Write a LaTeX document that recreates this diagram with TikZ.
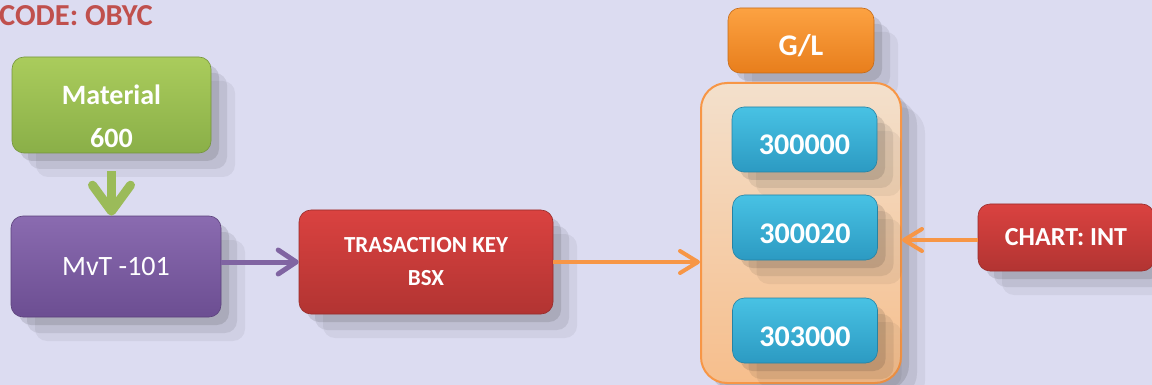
\documentclass[tikz,border=0pt]{standalone}
\usepackage{fontspec}
\setmainfont{Carlito}
\usetikzlibrary{arrows.meta,shadows,calc}
\definecolor{bg}{RGB}{220,220,241}
\definecolor{titlered}{RGB}{192,80,77}
\definecolor{gtop}{RGB}{170,204,92}\definecolor{gbot}{RGB}{138,175,72}
\definecolor{ptop}{RGB}{138,107,176}\definecolor{pbot}{RGB}{108,78,146}
\definecolor{rtop}{RGB}{218,66,64}\definecolor{rbot}{RGB}{178,52,50}
\definecolor{otop}{RGB}{252,162,66}\definecolor{obot}{RGB}{232,126,28}
\definecolor{btop}{RGB}{72,194,228}\definecolor{bbot}{RGB}{44,154,194}
\definecolor{ctop}{RGB}{243,224,204}\definecolor{cbot}{RGB}{246,190,140}
\definecolor{oline}{RGB}{247,150,70}
\definecolor{parrow}{RGB}{128,100,162}
\definecolor{garrow}{RGB}{155,187,89}
\begin{document}
\begin{tikzpicture}[x=1pt,y=-1pt,
  softshadow/.style={
    general shadow={shadow xshift=24pt,shadow yshift=-24pt,fill=black,opacity=0.05},
    general shadow={shadow xshift=16pt,shadow yshift=-16pt,fill=black,opacity=0.08},
    general shadow={shadow xshift=8pt,shadow yshift=-8pt,fill=black,opacity=0.11}},
  boxbase/.style={softshadow,rectangle,rounded corners=12pt,text=white,align=center,inner sep=0pt},
  greenbox/.style={boxbase,top color=gtop,bottom color=gbot,draw=gbot!85!black,line width=0.6pt},
  purplebox/.style={boxbase,top color=ptop,bottom color=pbot,draw=pbot!85!black,line width=0.6pt},
  redbox/.style={boxbase,top color=rtop,bottom color=rbot,draw=rbot!85!black,line width=0.6pt},
  orangebox/.style={boxbase,top color=otop,bottom color=obot,draw=obot!85!black,line width=0.6pt},
  bluebox/.style={boxbase,top color=btop,bottom color=bbot,draw=bbot!85!black,line width=0.6pt,
    minimum width=145pt,minimum height=65pt,text height=31pt,text depth=0pt,
    font=\fontsize{30}{32}\selectfont\bfseries},
  container/.style={softshadow,rectangle,rounded corners=26pt,top color=ctop,bottom color=cbot,
    draw=oline,line width=2pt,inner sep=0pt},
  garr/.style={draw=garrow,line width=9pt,-{Straight Barb[length=26pt,width=38pt,round]}},
  parr/.style={draw=parrow,line width=5pt,-{Straight Barb[length=18pt,width=24pt,round]}},
  oarr/.style={draw=oline,line width=4pt,-{Straight Barb[length=18pt,width=22pt,round]}}
]
\useasboundingbox[fill=bg] (0,0) rectangle (1152,385);

\node[anchor=west,text=titlered,font=\fontsize{30.5}{32}\selectfont\bfseries,inner sep=0pt] (title) at (-1,16) {CODE: OBYC};

\node[greenbox,minimum width=199pt,minimum height=96pt,
  label={[text=white,align=center,font=\fontsize{28}{43}\selectfont\bfseries,yshift=-11pt]center:Material\\600}] (material) at (111.5,105) {};
\node[purplebox,minimum width=210pt,minimum height=101pt,font=\fontsize{28}{30}\selectfont] (mvt) at (116,266.5) {MvT -101};
\node[redbox,minimum width=254pt,minimum height=104pt,font=\fontsize{23}{33}\selectfont\bfseries] (tk) at (426,262) {TRASACTION KEY\\BSX};

\node[orangebox,minimum width=146pt,minimum height=65pt,text height=31pt,text depth=0pt,font=\fontsize{30}{32}\selectfont\bfseries] (gl) at (801,40.5) {G/L};
\node[container,minimum width=200pt,minimum height=300pt] (cont) at (801,233) {};
\node[bluebox] (b1) at (804.5,139.5) {300000};
\node[bluebox] (b2) at (805,227.5) {300020};
\node[bluebox] (b3) at (805,330.5) {303000};

\node[redbox,minimum width=176pt,minimum height=67pt,font=\fontsize{26}{28}\selectfont\bfseries] (chart) at (1066,237.5) {CHART: INT};

\draw[garr,shorten <=18pt] (material.south) -- (material.south |- mvt.north);
\draw[parr] (tk.west -| mvt.east) -- (tk.west);
\draw[oarr] (tk.east) -- (tk.east -| cont.west);
\draw[oarr] ($(chart.west)+(0,2.5)$) -- ($(chart.west -| cont.east)+(0,2.5)$);
\end{tikzpicture}
\end{document}
